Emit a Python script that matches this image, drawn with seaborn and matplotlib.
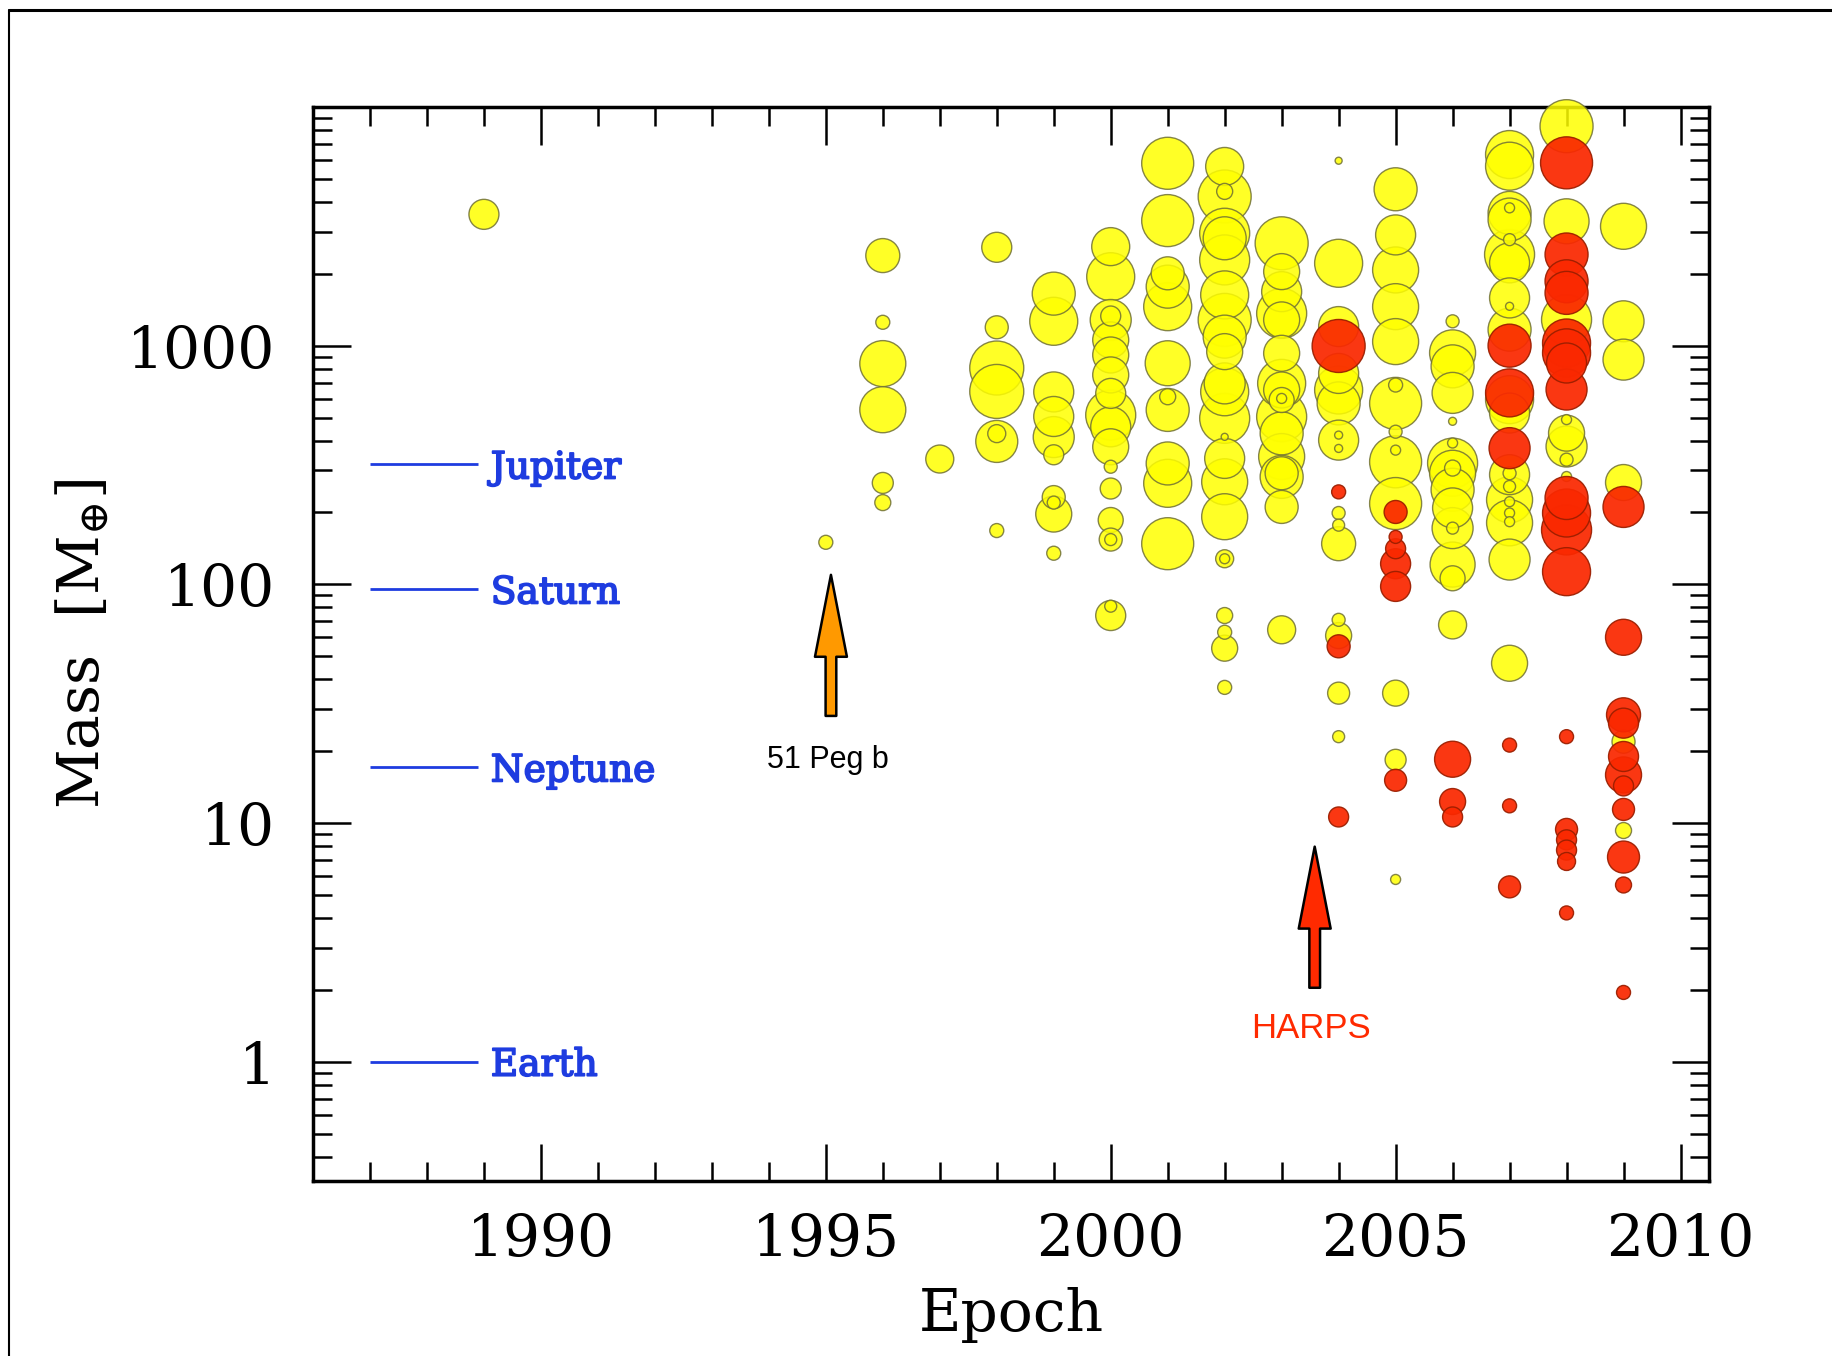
import numpy as np
import pandas as pd
import matplotlib
matplotlib.use("Agg")
import matplotlib.pyplot as plt
from matplotlib.ticker import MultipleLocator, LogLocator, FixedLocator, FixedFormatter, NullFormatter
from matplotlib.lines import Line2D
import matplotlib.patheffects as pe
import seaborn as sns

# ---------------- data ----------------
# Other (non-HARPS) detections: year, mass [M_earth], bubble value
other_year = ([1989] + [1995] + [1996] * 6 + [1997] + [1998] * 7 + [1999] * 10 +
              [2000] * 18 + [2001] * 11 + [2002] * 23 + [2003] * 17 + [2004] * 16 +
              [2005] * 14 + [2006] * 16 + [2007] * 23 + [2008] * 8 + [2009] * 6)
other_mass = [
    3550,
    150,
    2385, 1253, 841, 539, 266, 220,
    335,
    2583, 1194, 806, 643, 397, 428, 168,
    1652, 1265, 640, 505, 414, 349, 232, 220, 197, 135,
    2600, 1945, 1281, 1331, 1057, 914, 754, 631, 512, 457, 377, 311, 252, 186, 154, 154, 74, 81,
    5810, 3342, 2010, 1767, 1457, 844, 611, 538, 321, 265, 148,
    5634, 4430, 4217, 2958, 2818, 2287, 1632, 1282, 1091, 944, 695, 641, 496, 415, 337, 269, 192,
    128, 128, 74, 63, 54, 37,
    2685, 2043, 1684, 1365, 1282, 929, 695, 652, 601, 592, 504, 429, 343, 292, 282, 211, 64.5,
    5955, 2214, 1202, 765, 652, 573, 402, 422, 371, 199, 177, 148, 71, 61, 35, 23,
    4522, 2911, 2076, 1457, 1040, 684, 573, 436, 365, 326, 218, 35, 18.4, 5.8,
    1265, 933, 819, 634, 482, 391, 322, 307, 292, 249, 209, 172, 172, 121, 106, 67.6,
    6320, 5649, 3600, 3780, 3375, 2781, 2410, 2223, 1585, 1462, 1167, 594, 522, 292, 288, 257,
    226, 222, 199, 183, 181, 127, 46.7,
    8310, 3320, 1285, 490, 430, 378, 333, 283,
    3163, 1265, 874, 267, 21.9, 9.3,
]
other_amp = [
    15,
    7,
    17, 7, 23, 23, 10.5, 8,
    14,
    15, 11.5, 27, 27, 21, 9, 7,
    21.5, 24, 20, 20, 20.5, 10, 11.5, 6.5, 18, 7,
    19, 24, 20.5, 10, 18, 18, 18, 15, 25, 20, 18, 6.5, 10.5, 12.5, 11.5, 6, 15, 6,
    26, 26, 16.5, 21.5, 24, 22.5, 8, 21.5, 21.5, 24, 26,
    19, 8, 26.5, 25, 21.5, 25, 24, 26.5, 21.5, 18, 20.5, 24, 25, 3.5, 20, 23, 23,
    9, 5, 8, 7, 13, 7,
    26.5, 18, 20, 25, 18, 18, 24, 18, 5, 12.5, 25, 21.5, 23, 16.5, 21.5, 16.5, 14,
    3.5, 24, 20, 20, 24, 21.5, 20, 4, 4, 6.5, 6, 17, 6.5, 13, 11, 6,
    21.5, 20, 23, 23, 23, 7, 26, 6.5, 5, 26, 26, 13, 10.5, 5,
    6.5, 23, 21.5, 20.5, 4, 5, 25, 8, 23, 21.5, 20, 20.5, 6, 22.5, 12.5, 14,
    24, 24, 21.5, 5, 21.5, 6, 25, 20, 20, 4, 21.5, 24, 20, 6.5, 20, 6,
    23, 5, 5, 5, 23, 20.5, 18,
    26.5, 22.5, 25, 5, 18, 20.5, 6.5, 5,
    23, 20.5, 20.5, 18, 11.5, 8,
]

# HARPS detections
harps_year = [2004] * 4 + [2005] * 6 + [2006] * 3 + [2007] * 6 + [2008] * 18 + [2009] * 11
harps_mass = [
    997, 244, 55, 10.6,
    201, 158, 141, 122, 98, 15.1,
    18.5, 12.3, 10.6,
    1000, 634, 372, 21.2, 11.8, 5.4,
    5835, 2410, 1861, 1664, 1026, 933, 846, 655, 230, 199, 169, 113, 23, 9.4, 8.5, 7.7, 6.9, 4.2,
    211, 60, 28.4, 26.2, 19, 15.9, 14.3, 11.4, 7.2, 5.5, 1.95,
]
harps_amp = [
    26.5, 7, 11.5, 10,
    11.5, 6.5, 10, 15, 15, 11,
    18, 13, 10,
    21.5, 24, 20.5, 7, 7, 11,
    26, 21.5, 21.5, 21.5, 24, 24, 20, 20.5, 21.5, 24, 25, 24, 7, 11, 10, 10, 9, 7,
    20.5, 18, 17, 15, 15, 18, 10, 11, 16, 8, 7,
]

# Solar-system reference masses
planet_names = ["Jupiter", "Saturn", "Neptune", "Earth"]
planet_masses = [317.8, 95.2, 17.1, 1.0]

# Annotations
peg_label, peg_year, peg_mass_tip, peg_mass_tail, peg_mass_text = "51 Peg b", 1995.09, 109.6, 28.1, 16.96
harps_label, harps_arrow_year, harps_mass_tip, harps_mass_tail, harps_mass_text = "HARPS", 2003.58, 7.96, 2.04, 1.255

x_ticks = [1990, 1995, 2000, 2005, 2010]
y_ticks = [1, 10, 100, 1000]
y_ticklabels = ["1", "10", "100", "1000"]

# ---------------- style ----------------
sns.set_style("white")
plt.rcParams["font.family"] = ["DejaVu Serif", "DejaVu Sans"]
plt.rcParams["mathtext.fontset"] = "dejavuserif"
plt.rcParams["text.color"] = "black"
plt.rcParams["axes.labelcolor"] = "black"
plt.rcParams["xtick.color"] = "black"
plt.rcParams["ytick.color"] = "black"

YELLOW = "#FFFF00"
YELLOW_EDGE = "#707035"
RED = "#FA2800"
RED_EDGE = "#9A1E00"
BLUE = "#1E3CE0"

W, H = 1833, 1356
fig = plt.figure(figsize=(W / 100, H / 100), dpi=100)
fig.patch.set_facecolor("white")
ax = fig.add_axes([313 / W, 1 - 1181 / H, (1709 - 313) / W, (1181 - 107) / H])
ax.set_facecolor("white")
ax.set_yscale("log")

df_o = pd.DataFrame({"Epoch": other_year, "Mass": other_mass, "amp": other_amp})
df_h = pd.DataFrame({"Epoch": harps_year, "Mass": harps_mass, "amp": harps_amp})
for d in (df_o, df_h):
    d["area"] = d["amp"] ** 2
df_o = df_o.sort_values("area", ascending=False, kind="stable")
df_h = df_h.sort_values("area", ascending=False, kind="stable")

lo = min(df_o["area"].min(), df_h["area"].min())
hi = max(df_o["area"].max(), df_h["area"].max())
k = 1.44 ** 2  # px radius -> pt^2 area at 100 dpi

sns.scatterplot(data=df_o, x="Epoch", y="Mass", size="area", sizes=(k * lo, k * hi),
                size_norm=(lo, hi), color=YELLOW, edgecolor=YELLOW_EDGE, linewidth=1.0,
                alpha=0.85, legend=False, ax=ax, zorder=3, clip_on=False)
sns.scatterplot(data=df_h, x="Epoch", y="Mass", size="area", sizes=(k * lo, k * hi),
                size_norm=(lo, hi), color=RED, edgecolor=RED_EDGE, linewidth=1.0,
                alpha=0.93, legend=False, ax=ax, zorder=4, clip_on=False)

ax.set_xlim(1986, 2010.5)
ax.set_ylim(10 ** -0.5, 1e4)

# planet reference lines
ax.hlines(planet_masses, 1987.0, 1988.9, color=BLUE, lw=2.0, zorder=2)
for name, m in zip(planet_names, planet_masses):
    ax.text(1989.12, m, name, color=BLUE, fontsize=27, family="DejaVu Serif",
            ha="left", va="center_baseline",
            path_effects=[pe.withStroke(linewidth=1.3, foreground=BLUE)])

# arrows
astyle = "simple,head_length=59,head_width=23,tail_width=7.7"
ax.annotate("", xy=(peg_year, peg_mass_tip), xytext=(peg_year, peg_mass_tail),
            arrowprops=dict(arrowstyle=astyle, mutation_scale=1, fc="#FF9900", ec="black",
                            lw=1.8, shrinkA=0, shrinkB=0), zorder=5)
ax.annotate("", xy=(harps_arrow_year, harps_mass_tip), xytext=(harps_arrow_year, harps_mass_tail),
            arrowprops=dict(arrowstyle=astyle, mutation_scale=1, fc="#FF2A00", ec="black",
                            lw=1.8, shrinkA=0, shrinkB=0), zorder=5)
ax.text(1995.03, peg_mass_text, peg_label, fontsize=22, family="Liberation Sans",
        color="black", ha="center", va="baseline")
ax.text(2003.52, harps_mass_text, harps_label, fontsize=25, family="Liberation Sans",
        color="#FF2A00", ha="center", va="baseline")

# axes / ticks
for s in ax.spines.values():
    s.set_visible(True)
    s.set_linewidth(2.5)
    s.set_color("black")

ax.xaxis.set_major_locator(FixedLocator(x_ticks))
ax.xaxis.set_minor_locator(MultipleLocator(1))
ax.yaxis.set_major_locator(FixedLocator(y_ticks))
ax.yaxis.set_major_formatter(FixedFormatter(y_ticklabels))
ax.yaxis.set_minor_locator(LogLocator(base=10, subs=np.arange(2, 10)))
ax.yaxis.set_minor_formatter(NullFormatter())
ax.tick_params(which="both", direction="in", top=True, right=True, bottom=True, left=True,
               width=1.8, color="black", labelcolor="black")
ax.tick_params(which="major", length=27, labelsize=42)
ax.tick_params(which="minor", length=13.5)
ax.tick_params(axis="x", which="major", pad=22)
ax.tick_params(axis="y", which="major", pad=27)

ax.set_xlabel("Epoch", fontsize=42, labelpad=14, color="black")
ax.set_ylabel(r"Mass  [M$_{\oplus}$]", fontsize=42, labelpad=11, color="black")

# figure border
fig.add_artist(Line2D([9 / W, 1], [1 - 10 / H, 1 - 10 / H], transform=fig.transFigure,
                      color="black", lw=2.2))
fig.add_artist(Line2D([9 / W, 9 / W], [0, 1 - 10 / H], transform=fig.transFigure,
                      color="black", lw=1.5))

fig.savefig("out.png", dpi=100, facecolor="white")
